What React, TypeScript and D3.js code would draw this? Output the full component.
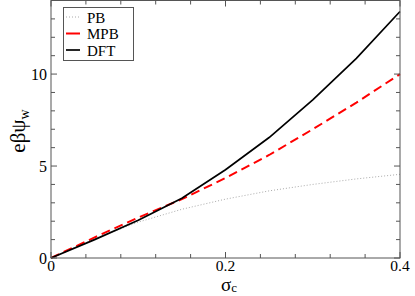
import React from "react";
import * as d3 from "d3";

const sigma = [0, 0.05, 0.1, 0.15, 0.2, 0.25, 0.3, 0.35, 0.4];
const pb = [0, 1.05, 1.95, 2.65, 3.2, 3.65, 4.0, 4.3, 4.55];
const mpb = [0, 1.12, 2.2, 3.2, 4.35, 5.6, 7.0, 8.45, 10.0];
const dft = [0, 1.0, 2.05, 3.25, 4.8, 6.55, 8.6, 10.85, 13.4];

const xMajor = [0, 0.2, 0.4];
const xMinor = d3.range(0, 0.4001, 0.04);
const yMajor = [0, 5, 10];
const yMinor = d3.range(0, 14.001, 1);

const legend = [
  { name: "PB", color: "#aaa", width: 1, dash: "1,2" },
  { name: "MPB", color: "#ff0000", width: 2, dash: "9,5" },
  { name: "DFT", color: "#000", width: 1.7, dash: null },
];
const series = [pb, mpb, dft];

const font = "Liberation Serif, Times New Roman, Times, serif";
const T = (props: any) => <text fontFamily={font} style={{ fontFamily: font }} {...props} />;

export default function App() {
  const w = 415,
    h = 296;
  const m = { left: 51, right: 15, top: 0.5, bottom: 38 };
  const x = d3.scaleLinear().domain([0, 0.4]).range([m.left, w - m.right]);
  const y = d3.scaleLinear().domain([0, 14]).range([h - m.bottom, m.top]);
  const line = (vals: number[]) =>
    d3.line<number>().x((_, i) => x(sigma[i])).y((d) => y(d))(vals) || "";
  const axis = "#555";
  const bottom = y(0),
    top = y(14),
    left = x(0),
    right = x(0.4);

  return (
    <svg width={w} height={h} style={{ position: "absolute", left: 0, top: 0 }}>
      <rect width={w} height={h} fill="#fff" />
      {series.map((s, i) => (
        <path
          key={legend[i].name}
          d={line(s)}
          fill="none"
          stroke={legend[i].color}
          strokeWidth={legend[i].width}
          strokeDasharray={legend[i].dash || undefined}
        />
      ))}
      <rect x={left} y={top} width={right - left} height={bottom - top} fill="none" stroke={axis} strokeWidth={1} />
      {xMinor.map((v) => {
        const major = xMajor.some((t) => Math.abs(t - v) < 1e-6);
        const len = major ? 6 : 4;
        return (
          <g key={"x" + v} stroke={axis}>
            <line x1={x(v)} x2={x(v)} y1={bottom} y2={bottom - len} />
            <line x1={x(v)} x2={x(v)} y1={top} y2={top + len} />
          </g>
        );
      })}
      {yMinor.map((v) => {
        const major = yMajor.includes(v);
        const len = major ? 6 : 4;
        return (
          <g key={"y" + v} stroke={axis}>
            <line x1={left} x2={left + len} y1={y(v)} y2={y(v)} />
            <line x1={right} x2={right - len} y1={y(v)} y2={y(v)} />
          </g>
        );
      })}
      {xMajor.map((v) => (
        <T key={"xl" + v} x={x(v)} y={271} textAnchor="middle" fontSize={15.5}>
          {d3.format("~g")(v)}
        </T>
      ))}
      {yMajor.map((v) => (
        <T key={"yl" + v} x={47} y={y(v) + 6} textAnchor="end" fontSize={16}>
          {v}
        </T>
      ))}
      <T x={229} y={291} textAnchor="middle" fontSize={19}>
        σ<tspan fontSize={13} dy={1}>c</tspan>
      </T>
      <T transform={`translate(25,131) rotate(-90)`} textAnchor="middle" fontSize={21}>
        eβψ<tspan fontSize={14} dy={4}>w</tspan>
      </T>
      <rect x={63.5} y={7.5} width={70} height={53} fill="#fff" stroke={axis} />
      {legend.map((l, i) => (
        <g key={"lg" + l.name}>
          <line
            x1={66}
            x2={80}
            y1={17 + i * 16.5}
            y2={17 + i * 16.5}
            stroke={l.color}
            strokeWidth={l.width}
            strokeDasharray={i === 0 ? "1,2" : undefined}
          />
          <T x={87} y={22.5 + i * 16.5} fontSize={15}>
            {l.name}
          </T>
        </g>
      ))}
    </svg>
  );
}
